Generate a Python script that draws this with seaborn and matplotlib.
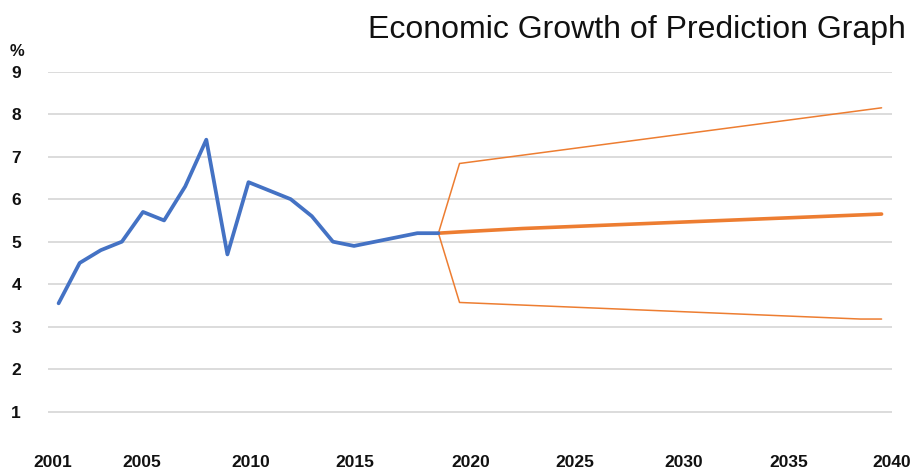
import matplotlib
matplotlib.use("Agg")
import matplotlib.pyplot as plt
import matplotlib.transforms as mtransforms
import seaborn as sns

# Historical growth rate (%)
hist_years = [2001, 2002, 2003, 2004, 2005, 2006, 2007, 2008, 2009, 2010,
              2011, 2012, 2013, 2014, 2015, 2016, 2017, 2018, 2019]
hist_values = [3.55, 4.5, 4.8, 5.0, 5.7, 5.5, 6.3, 7.4, 4.7, 6.4,
               6.2, 6.0, 5.6, 5.0, 4.9, 5.0, 5.1, 5.2, 5.2]

# Forecast: central path and upper / lower bounds
mid_years = [2019, 2020, 2023, 2040]
mid_values = [5.2, 5.23, 5.31, 5.65]
upper_years = [2019, 2020, 2040]
upper_values = [5.2, 6.84, 8.15]
lower_years = [2019, 2020, 2039, 2040]
lower_values = [5.2, 3.57, 3.18, 3.18]

x_tick_years = [2001, 2005, 2010, 2015, 2020, 2025, 2030, 2035, 2040]
y_ticks = [1, 2, 3, 4, 5, 6, 7, 8, 9]

title = "Economic Growth of Prediction Graph"

sns.set_theme(style="white")
plt.rcParams["font.family"] = ["Liberation Sans", "DejaVu Sans"]

fig = plt.figure(figsize=(9.15, 4.71), dpi=100)
ax = fig.add_axes([0.0525, 0.0357, 0.9225, 0.8121])

blue = "#4472C4"
orange = "#ED7D31"

sns.lineplot(x=upper_years, y=upper_values, ax=ax, color=orange, linewidth=1.1)
sns.lineplot(x=lower_years, y=lower_values, ax=ax, color=orange, linewidth=1.1)
sns.lineplot(x=mid_years, y=mid_values, ax=ax, color=orange, linewidth=2.6)
sns.lineplot(x=hist_years, y=hist_values, ax=ax, color=blue, linewidth=2.7)

ax.set_xlim(2000.5, 2040.5)
ax.set_ylim(0, 9)
ax.set_yticks(y_ticks)
ax.set_xticks(x_tick_years)
ax.set_xticklabels([str(y) for y in x_tick_years])
ax.grid(axis="y", color="#d9d9d9", linewidth=1.3)
ax.grid(axis="x", visible=False)
ax.set_axisbelow(True)
for s in ax.spines.values():
    s.set_visible(False)
ax.tick_params(axis="both", length=0, labelsize=12.5, colors="#111111")
ax.tick_params(axis="y", pad=19.5)
ax.tick_params(axis="x", pad=0.5)
for lbl in ax.get_xticklabels() + ax.get_yticklabels():
    lbl.set_fontweight("bold")

# the year labels sit slightly off their ticks (pixel nudges)
label_nudge = [-6, -1, 2, 1, 11, 10, 13, 13, 10]
for lbl, dx in zip(ax.get_xticklabels(), label_nudge):
    lbl.set_transform(lbl.get_transform() +
                      mtransforms.ScaledTranslation(dx / 100, 0, fig.dpi_scale_trans))
ax.set_xlabel("")
ax.set_ylabel("")

fig.text(17 / 915, 1 - 52 / 471, "%", ha="center", va="center",
         fontsize=12, fontweight="bold", color="#111111")
fig.text(368 / 915, 1 - 38 / 471, title, ha="left", va="baseline",
         fontsize=23, color="#111111")

fig.savefig("out.png", dpi=100)
